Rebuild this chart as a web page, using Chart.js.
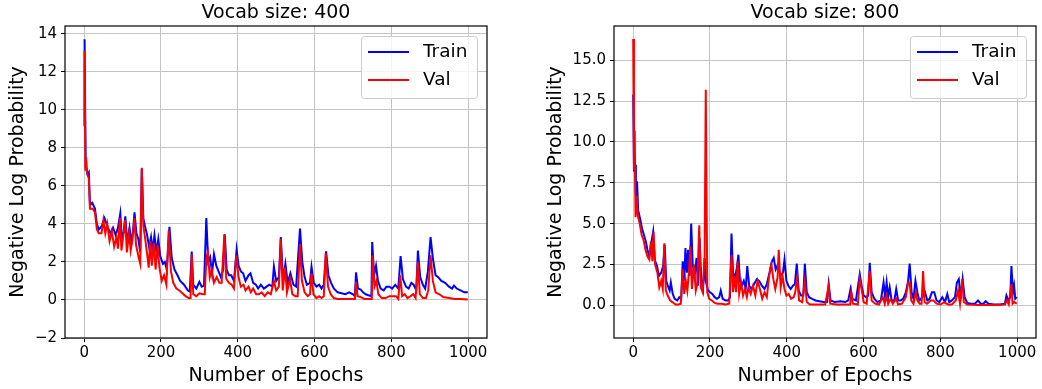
<!DOCTYPE html>
<html>
<head>
<meta charset="utf-8">
<script src="https://cdn.jsdelivr.net/npm/chart.js@4.4.1/dist/chart.umd.min.js"></script>
<style>
  body { margin: 0; background: #fff; }
  #left { position: absolute; left: 0; top: 0; }
  #right { position: absolute; left: 520px; top: 0; }
</style>
</head>
<body>
<canvas id="left" width="520" height="389"></canvas>
<canvas id="right" width="522" height="389"></canvas>
<script>
// Vocab size 400
const train400Epochs = [0,1,4,9,12,15,21,28,33,38,46,53,60,68,75,82,88,94,98,103,107,112,118,123,127,131,136,141,146,150,154,158,163,169,174,178,183,188,193,198,205,210,215,222,228,235,243,250,260,270,275,280,284,292,300,306,312,318,323,328,333,338,344,350,356,362,366,371,377,383,390,397,402,408,414,420,428,433,440,447,453,460,468,475,482,490,494,500,507,512,518,524,530,537,545,552,562,568,574,580,588,592,598,605,612,618,624,630,636,643,650,660,670,680,690,700,705,708,713,720,726,733,740,748,750,755,760,765,772,780,787,795,802,810,818,824,830,838,845,852,858,865,869,875,882,888,895,902,908,915,922,930,940,950,958,963,970,980,990,999];
const train400Loss = [9.1,13.7,7.0,6.6,6.7,5.0,5.1,4.8,4.0,3.7,3.9,4.3,3.9,3.5,3.8,3.4,3.8,4.55,3.2,3.6,4.4,3.0,3.8,3.0,3.6,4.6,3.5,3.2,2.5,6.9,4.3,3.9,3.5,2.8,3.3,2.6,3.4,2.5,3.2,2.3,1.9,2.0,1.6,3.85,2.2,1.6,1.3,1.0,0.8,0.5,0.45,2.55,0.8,0.6,0.95,0.7,0.75,4.3,2.0,2.25,1.4,2.4,1.8,1.5,1.2,1.6,3.45,1.6,1.3,1.3,1.0,2.65,1.8,1.5,1.4,1.0,1.3,1.4,0.9,0.8,0.6,0.8,0.6,0.7,0.8,0.7,1.75,1.0,1.2,3.3,1.0,1.9,0.9,1.4,0.8,0.7,3.75,2.0,1.2,0.8,0.9,1.75,0.9,0.7,0.8,0.6,0.8,2.55,1.3,0.9,0.6,0.4,0.35,0.3,0.4,0.3,0.2,1.45,0.6,0.55,0.4,0.3,0.25,0.2,3.05,1.3,1.8,1.0,0.6,0.5,0.7,0.7,0.6,0.8,0.6,2.3,1.1,0.7,0.6,0.9,0.8,0.5,2.6,1.2,0.8,0.6,1.5,3.3,2.2,1.3,1.2,1.0,0.9,0.7,0.6,0.75,0.6,0.5,0.4,0.4];
const val400Epochs = [0,1,3,5,8,12,15,22,28,33,38,45,50,55,60,66,72,78,84,88,93,97,102,107,111,117,121,126,131,135,140,146,150,154,159,164,168,172,176,181,186,191,196,202,208,214,220,226,232,240,248,256,264,272,277,280,284,292,300,308,314,318,322,327,332,338,345,352,358,365,370,377,384,390,396,402,408,415,420,428,434,440,448,455,462,470,478,486,494,500,507,512,517,523,528,536,542,550,556,562,567,574,582,588,592,597,605,612,618,624,629,635,642,650,660,675,690,700,705,708,712,720,730,745,749,751,756,761,766,775,785,795,805,812,818,823,828,835,842,850,857,863,869,874,882,890,896,902,908,915,925,935,950,965,980,999];
const val400Loss = [9.2,13.1,6.8,7.5,6.6,6.4,4.8,4.8,4.6,3.7,3.5,3.5,4.2,3.5,4.0,3.1,3.6,2.8,3.3,2.7,4.3,2.6,3.4,4.2,2.5,3.5,2.6,3.2,4.3,2.9,2.4,1.9,6.95,3.9,3.2,2.4,1.7,3.1,1.8,3.0,1.6,2.9,1.7,1.0,1.3,0.8,3.65,1.5,0.9,0.6,0.5,0.35,0.2,0.1,0.1,2.4,0.3,0.2,0.35,0.3,0.3,2.2,2.5,1.2,1.6,0.9,1.2,0.9,0.9,3.45,1.1,0.9,0.8,0.6,2.35,1.2,0.7,0.8,0.5,0.7,0.4,0.6,0.3,0.3,0.4,0.2,0.4,0.3,1.0,0.5,0.7,3.2,0.5,1.7,0.4,1.1,0.3,0.2,0.2,2.95,1.0,0.4,0.2,0.3,1.4,0.3,0.1,0.2,0.1,0.2,2.45,0.7,0.3,0.1,0.05,0.05,0.05,0.05,0.05,0.95,0.2,0.15,0.05,0.05,0.05,2.35,0.7,1.0,0.3,0.1,0.1,0.2,0.2,0.2,0.05,1.3,0.2,0.3,0.1,0.2,0.3,0.1,2.0,0.3,0.1,0.1,0.5,2.35,1.0,0.4,0.3,0.15,0.1,0.05,0.05,0.02];

// Vocab size 800
const train800Epochs = [0,2,5,7,10,13,18,23,28,33,37,42,47,52,56,62,67,73,78,82,86,90,95,98,103,108,115,120,125,129,133,136,140,143,147,151,155,160,165,169,173,177,182,186,189,195,200,206,212,218,224,228,233,240,247,252,256,260,265,270,274,278,283,288,293,297,302,308,315,322,328,335,342,348,355,360,366,371,377,383,390,394,399,404,410,416,421,426,431,437,443,447,452,458,466,475,485,495,505,509,514,525,540,552,560,566,571,580,590,595,600,607,612,616,621,628,636,645,652,656,660,664,668,673,680,685,690,697,703,710,716,720,725,730,735,740,745,750,755,760,766,772,778,784,790,797,805,812,818,823,830,838,843,848,853,858,863,870,880,890,898,905,912,918,925,940,955,968,972,977,982,985,989,992,995,999];
const train800Loss = [12.9,8.2,8.6,6.7,7.6,5.8,5.3,4.7,4.3,3.9,3.4,3.0,3.8,4.5,2.8,2.4,1.8,2.0,2.4,3.7,1.5,1.2,0.9,1.4,0.7,0.4,0.3,0.5,0.4,2.7,1.5,3.5,2.0,3.4,1.8,5.0,2.5,1.8,2.9,1.2,4.1,1.6,1.0,2.9,1.5,0.9,0.8,0.7,0.5,0.4,0.5,0.9,0.4,0.3,0.3,0.5,4.4,2.0,1.7,2.3,3.1,1.5,1.2,1.5,1.0,2.4,1.2,1.0,1.3,1.6,1.5,1.2,1.0,1.3,2.0,2.6,2.9,2.2,2.5,1.8,2.0,2.8,1.5,1.2,1.0,1.2,1.3,2.55,0.9,0.6,0.6,2.55,0.8,0.5,0.4,0.3,0.25,0.2,0.2,1.3,0.3,0.2,0.25,0.2,0.3,1.0,0.4,0.3,1.9,1.2,0.6,0.5,0.6,2.6,0.8,0.4,0.2,0.3,1.4,0.5,1.4,0.5,1.1,0.3,0.3,1.0,0.3,0.3,0.4,0.8,1.5,2.55,0.8,0.4,1.5,0.8,0.3,0.4,0.6,0.8,0.3,0.4,0.8,0.8,0.3,0.2,0.5,0.2,0.7,0.2,0.3,0.5,1.4,1.6,0.5,1.6,0.5,0.15,0.1,0.1,0.3,0.1,0.1,0.25,0.1,0.05,0.05,0.1,0.6,0.3,0.5,2.4,0.8,1.2,0.4,0.5];
const val800Epochs = [0,2,4,6,9,12,17,22,27,32,37,42,46,50,53,57,63,68,73,77,81,85,90,96,102,110,118,124,129,133,137,141,145,149,153,158,163,167,172,176,181,186,189,193,198,205,212,220,230,240,250,256,260,264,268,272,276,281,286,291,296,300,306,312,318,324,330,336,342,348,354,360,365,370,376,379,384,389,394,399,405,411,418,422,427,432,440,447,452,460,480,500,509,513,530,550,565,568,572,585,590,595,600,608,616,621,630,640,650,655,660,664,670,676,685,690,700,710,716,720,724,730,736,740,746,751,755,759,765,775,782,790,800,810,820,830,840,846,851,857,861,870,900,940,968,973,978,985,988,992,999];
const val800Loss = [16.3,8.3,10.7,5.4,6.7,5.5,5.0,4.3,4.0,3.4,3.0,2.8,3.9,2.7,4.5,2.5,2.0,1.1,1.5,1.0,3.8,0.9,0.6,0.3,0.2,0.05,0.05,0.1,2.2,0.7,1.5,0.9,2.0,3.6,1.0,2.5,0.9,1.3,4.9,1.1,0.8,3.0,13.2,0.8,0.4,0.3,0.15,0.1,0.1,0.05,0.1,3.1,0.8,1.8,0.8,2.7,0.7,1.4,0.6,1.0,0.5,1.1,0.7,1.2,0.6,1.5,1.0,0.4,0.8,0.5,1.8,2.5,1.6,1.0,1.7,3.4,1.1,1.8,1.0,0.6,0.7,0.4,0.5,0.8,1.7,0.3,0.2,1.5,0.2,0.05,0.05,0.05,1.2,0.1,0.05,0.05,0.05,0.8,0.1,0.05,1.6,1.0,0.2,0.1,2.1,0.3,0.1,0.05,0.5,0.1,0.6,0.1,0.4,0.1,0.4,0.05,0.1,0.5,1.4,1.4,0.3,0.1,0.8,0.3,0.1,0.1,2.1,0.2,0.1,0.3,0.3,0.1,0.05,0.2,0.05,0.05,0.3,0.9,0.1,1.6,0.2,0.05,0.02,0.02,0.05,0.3,0.05,1.3,0.1,0.2,0.1];

// tick labels
const xTicks = [0, 200, 400, 600, 800, 1000];
const xLabels = ['0', '200', '400', '600', '800', '1000'];
const yTicks400 = [-2, 0, 2, 4, 6, 8, 10, 12, 14];
const yLabels400 = ['\u22122', '0', '2', '4', '6', '8', '10', '12', '14'];
const yTicks800 = [0, 2.5, 5, 7.5, 10, 12.5, 15];
const yLabels800 = ['0.0', '2.5', '5.0', '7.5', '10.0', '12.5', '15.0'];

Chart.defaults.font.family = '"DejaVu Sans", sans-serif';
Chart.defaults.color = '#000';

const toPoints = (xs, ys) => xs.map((x, i) => ({ x: x, y: ys[i] }));

// frame around plot + legend inside top right (like matplotlib)
const frameLegend = {
  id: 'frameLegend',
  afterDatasetsDraw(chart) {
    const { ctx, chartArea: a } = chart;
    ctx.save();
    ctx.strokeStyle = '#000';
    ctx.lineWidth = 1.2;
    ctx.strokeRect(a.left, a.top, a.right - a.left, a.bottom - a.top);

    const w = 116, h = 62;
    const bx = a.right - 10 - w, by = a.top + 10;
    ctx.fillStyle = 'rgba(255,255,255,0.8)';
    ctx.strokeStyle = '#cccccc';
    ctx.lineWidth = 1;
    ctx.beginPath();
    ctx.roundRect(bx + 0.5, by + 0.5, w, h, 3);
    ctx.fill();
    ctx.stroke();
    chart.data.datasets.forEach((ds, i) => {
      const ly = by + 16 + i * 28;
      ctx.strokeStyle = ds.borderColor;
      ctx.lineWidth = 2;
      ctx.beginPath();
      ctx.moveTo(bx + 7, ly);
      ctx.lineTo(bx + 48, ly);
      ctx.stroke();
      ctx.fillStyle = '#000';
      ctx.font = '18.5px "DejaVu Sans"';
      ctx.textBaseline = 'middle';
      ctx.fillText(ds.label, bx + 62, ly);
    });
    ctx.restore();
  }
};

function makeChart(id, title, train, val, yMax, yTicks, yLabels, yWidth, yTitlePad, rightPad) {
  return new Chart(document.getElementById(id), {
    type: 'line',
    data: {
      datasets: [
        { label: 'Train', data: train, borderColor: '#0000ff', borderWidth: 2, pointRadius: 0, order: 1 },
        { label: 'Val', data: val, borderColor: '#ff0000', borderWidth: 2, pointRadius: 0, order: 0 }
      ]
    },
    options: {
      responsive: false,
      animation: false,
      layout: { padding: { left: 0, right: rightPad, top: 0, bottom: 0 } },
      plugins: {
        legend: { display: false },
        tooltip: { enabled: false },
        title: {
          display: true, text: title, fullSize: false,
          font: { size: 19, weight: 'normal' },
          padding: { top: 1.8, bottom: 1.4 }
        }
      },
      scales: {
        x: {
          type: 'linear', min: -50, max: 1049,
          afterBuildTicks: s => { s.ticks = xTicks.map(v => ({ value: v })); },
          afterFit: s => { s.height = 51; },
          ticks: {
            font: { size: 15 }, padding: 2, maxRotation: 0, autoSkip: false,
            callback: v => xLabels[xTicks.indexOf(v)]
          },
          grid: { color: '#c4c4c4', lineWidth: 1, tickColor: '#000', tickLength: 4 },
          border: { display: false },
          title: { display: true, text: 'Number of Epochs', font: { size: 19 }, padding: { top: 0, bottom: 2 } }
        },
        y: {
          type: 'linear', min: -2, max: yMax,
          afterBuildTicks: s => { s.ticks = yTicks.map(v => ({ value: v })); },
          afterFit: s => { s.width = yWidth; },
          ticks: {
            font: { size: 15 }, padding: 4, autoSkip: false,
            callback: v => yLabels[yTicks.indexOf(v)]
          },
          grid: { color: '#c4c4c4', lineWidth: 1, tickColor: '#000', tickLength: 4 },
          border: { display: false },
          title: { display: true, text: 'Negative Log Probability', font: { size: 19 }, padding: { top: yTitlePad, bottom: 0 } }
        }
      }
    },
    plugins: [frameLegend]
  });
}

makeChart('left', 'Vocab size: 400',
  toPoints(train400Epochs, train400Loss), toPoints(val400Epochs, val400Loss),
  14.4, yTicks400, yLabels400, 65, 7, 33);

makeChart('right', 'Vocab size: 800',
  toPoints(train800Epochs, train800Loss), toPoints(val800Epochs, val800Loss),
  17.1, yTicks800, yLabels800, 94, 25, 6);
</script>
</body>
</html>
